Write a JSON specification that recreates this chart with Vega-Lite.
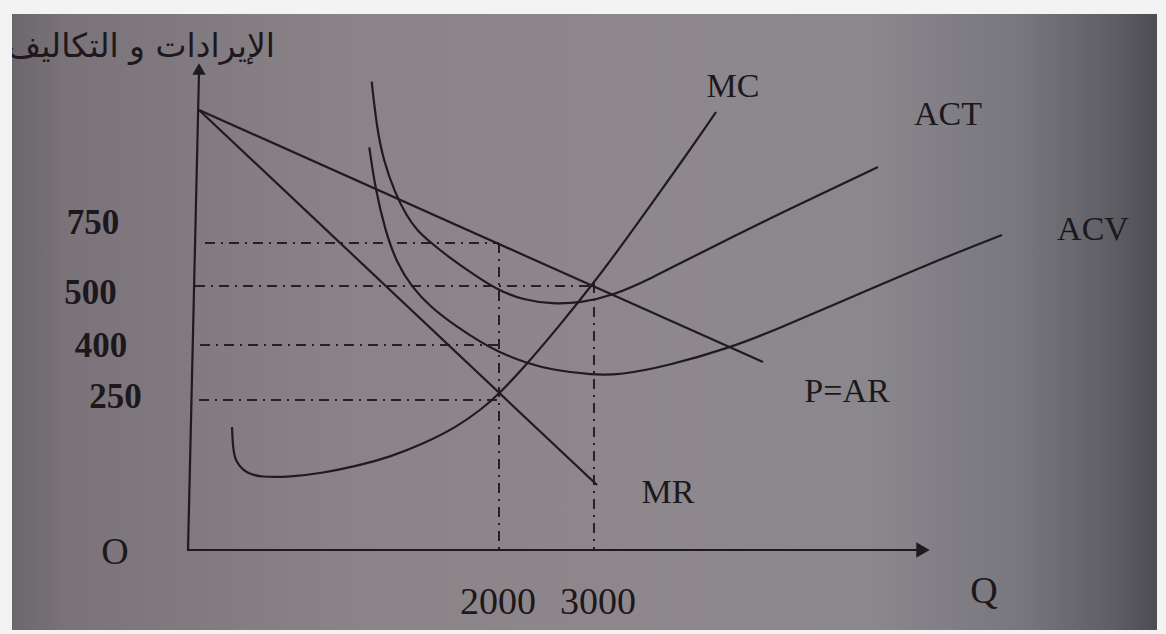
{
  "$schema": "https://vega.github.io/schema/vega-lite/v6.json",
  "width": 1166,
  "height": 634,
  "autosize": {"type": "fit", "contains": "padding"},
  "padding": {"left": 12, "top": 14, "right": 9, "bottom": 4},
  "background": "#f3f3f3",
  "config": {"view": {"stroke": null}},
  "datasets": {
    "curves": [
      {"curve": "MC", "q": 7, "v": 24.6},
      {"curve": "MC", "q": 7.2, "v": 20},
      {"curve": "MC", "q": 7.8, "v": 17.6},
      {"curve": "MC", "q": 9.2, "v": 16},
      {"curve": "MC", "q": 10.6, "v": 15.2},
      {"curve": "MC", "q": 12.6, "v": 14.6},
      {"curve": "MC", "q": 18.6, "v": 14.6},
      {"curve": "MC", "q": 25.2, "v": 15.4},
      {"curve": "MC", "q": 32, "v": 16.8},
      {"curve": "MC", "q": 38.6, "v": 18.6},
      {"curve": "MC", "q": 45.2, "v": 21.2},
      {"curve": "MC", "q": 52, "v": 24.6},
      {"curve": "MC", "q": 57.2, "v": 28.4},
      {"curve": "MC", "q": 60.2, "v": 31},
      {"curve": "MC", "q": 66, "v": 37.2},
      {"curve": "MC", "q": 72.6, "v": 45},
      {"curve": "MC", "q": 79, "v": 53},
      {"curve": "MC", "q": 84.6, "v": 60.4},
      {"curve": "MC", "q": 98.6, "v": 80},
      {"curve": "MC", "q": 103.8, "v": 87.6},
      {"curve": "ACT", "q": 34.94, "v": 93.66},
      {"curve": "ACT", "q": 35.94, "v": 84.66},
      {"curve": "ACT", "q": 37.26, "v": 78},
      {"curve": "ACT", "q": 39.6, "v": 71.4},
      {"curve": "ACT", "q": 41.94, "v": 66.8},
      {"curve": "ACT", "q": 43.94, "v": 64},
      {"curve": "ACT", "q": 46.6, "v": 61.6},
      {"curve": "ACT", "q": 49.94, "v": 58.9},
      {"curve": "ACT", "q": 55.94, "v": 54.66},
      {"curve": "ACT", "q": 60.2, "v": 52},
      {"curve": "ACT", "q": 65.2, "v": 50},
      {"curve": "ACT", "q": 71.2, "v": 49.2},
      {"curve": "ACT", "q": 76.6, "v": 49.4},
      {"curve": "ACT", "q": 83.2, "v": 50.9},
      {"curve": "ACT", "q": 90.6, "v": 54.2},
      {"curve": "ACT", "q": 100.6, "v": 59.4},
      {"curve": "ACT", "q": 118, "v": 68},
      {"curve": "ACT", "q": 136.2, "v": 76.6},
      {"curve": "ACV", "q": 34.46, "v": 80.54},
      {"curve": "ACV", "q": 35.6, "v": 72.6},
      {"curve": "ACV", "q": 37.6, "v": 64},
      {"curve": "ACV", "q": 39.94, "v": 57.4},
      {"curve": "ACV", "q": 42.94, "v": 52.66},
      {"curve": "ACV", "q": 46.6, "v": 48.66},
      {"curve": "ACV", "q": 51.94, "v": 44.66},
      {"curve": "ACV", "q": 56.6, "v": 41.66},
      {"curve": "ACV", "q": 60.2, "v": 39.66},
      {"curve": "ACV", "q": 65.94, "v": 37.34},
      {"curve": "ACV", "q": 71.2, "v": 36},
      {"curve": "ACV", "q": 79.2, "v": 35},
      {"curve": "ACV", "q": 84.6, "v": 35},
      {"curve": "ACV", "q": 94, "v": 36.8},
      {"curve": "ACV", "q": 106.6, "v": 40.4},
      {"curve": "ACV", "q": 116.6, "v": 44.4},
      {"curve": "ACV", "q": 127.2, "v": 49},
      {"curve": "ACV", "q": 147.2, "v": 57.6},
      {"curve": "ACV", "q": 161, "v": 63},
      {"curve": "P=AR", "q": 0.4, "v": 88},
      {"curve": "P=AR", "q": 113.2, "v": 37.6},
      {"curve": "MR", "q": 0.4, "v": 88},
      {"curve": "MR", "q": 80, "v": 13}
    ],
    "guides": [
      {"guide": "750", "q": 1.6, "v": 61.4},
      {"guide": "750", "q": 60.4, "v": 61.4},
      {"guide": "500", "q": -0.4, "v": 52.8},
      {"guide": "500", "q": 79.2, "v": 52.8},
      {"guide": "400", "q": 0.6, "v": 41},
      {"guide": "400", "q": 60.4, "v": 41},
      {"guide": "250", "q": 0.4, "v": 30},
      {"guide": "250", "q": 60, "v": 30},
      {"guide": "2000", "q": 60.4, "v": 61.4},
      {"guide": "2000", "q": 60.4, "v": 0},
      {"guide": "3000", "q": 79.4, "v": 53.4},
      {"guide": "3000", "q": 79.4, "v": 0}
    ],
    "axes": [
      {"axis": "y", "q": -1.8, "v": -0.2},
      {"axis": "y", "q": 0.4, "v": 95.5},
      {"axis": "x", "q": -2, "v": 0},
      {"axis": "x", "q": 144, "v": 0}
    ],
    "arrows": [
      {"dir": "up", "q": 0.4, "v": 96.2},
      {"dir": "right", "q": 145.2, "v": 0}
    ],
    "labels": [
      {"group": "curve", "text": "MC", "q": 107.2, "v": 92.6},
      {"group": "curve", "text": "ACT", "q": 150.2, "v": 87},
      {"group": "curve", "text": "ACV", "q": 179.2, "v": 64},
      {"group": "curve", "text": "P=AR", "q": 130, "v": 31.6},
      {"group": "curve", "text": "MR", "q": 94.2, "v": 11.4},
      {"group": "axis", "text": "O", "q": -16.4, "v": -0.6},
      {"group": "axis", "text": "Q", "q": 157.4, "v": -8.4},
      {"group": "axis", "text": "2000", "q": 60.2, "v": -10.6},
      {"group": "axis", "text": "3000", "q": 80.2, "v": -10.6},
      {"group": "tick", "text": "750", "q": -20.8, "v": 65.4},
      {"group": "tick", "text": "500", "q": -21.3, "v": 51.4},
      {"group": "tick", "text": "400", "q": -19.2, "v": 40.8},
      {"group": "tick", "text": "250", "q": -16.3, "v": 30.6},
      {"group": "title", "text": "الإيرادات و التكاليف", "q": 15.6, "v": 100.6}
    ]
  },
  "layer": [
    {
      "data": {"values": [{"panel": "paper"}]},
      "mark": {
        "type": "rect",
        "color": {
          "gradient": "linear",
          "x1": 0, "y1": 0, "x2": 1, "y2": 0,
          "stops": [
            {"offset": 0, "color": "#6c676d"},
            {"offset": 0.05, "color": "#7a747a"},
            {"offset": 0.3, "color": "#8a8388"},
            {"offset": 0.55, "color": "#8e888d"},
            {"offset": 0.75, "color": "#8a878d"},
            {"offset": 0.88, "color": "#78777d"},
            {"offset": 0.96, "color": "#5e5e64"},
            {"offset": 1, "color": "#4c4c52"}
          ]
        }
      }
    },
    {
      "data": {"name": "guides"},
      "mark": {"type": "line", "stroke": "#262126", "strokeWidth": 2, "strokeDash": [10, 6, 2, 6]},
      "encoding": {
        "x": {"field": "q", "type": "quantitative", "scale": {"domain": [-37, 192], "nice": false, "zero": false}, "axis": null},
        "y": {"field": "v", "type": "quantitative", "scale": {"domain": [-16, 107.2], "nice": false, "zero": false}, "axis": null},
        "detail": {"field": "guide"}
      }
    },
    {
      "data": {"name": "axes"},
      "mark": {"type": "line", "stroke": "#1e1a1e", "strokeWidth": 2.2},
      "encoding": {
        "x": {"field": "q", "type": "quantitative", "scale": {"domain": [-37, 192], "nice": false, "zero": false}, "axis": null},
        "y": {"field": "v", "type": "quantitative", "scale": {"domain": [-16, 107.2], "nice": false, "zero": false}, "axis": null},
        "detail": {"field": "axis"}
      }
    },
    {
      "data": {"name": "arrows"},
      "transform": [{"filter": "datum.dir === 'up'"}],
      "mark": {"type": "point", "shape": "triangle-up", "filled": true, "color": "#1e1a1e", "size": 180, "opacity": 1},
      "encoding": {
        "x": {"field": "q", "type": "quantitative", "scale": {"domain": [-37, 192], "nice": false, "zero": false}, "axis": null},
        "y": {"field": "v", "type": "quantitative", "scale": {"domain": [-16, 107.2], "nice": false, "zero": false}, "axis": null}
      }
    },
    {
      "data": {"name": "arrows"},
      "transform": [{"filter": "datum.dir === 'right'"}],
      "mark": {"type": "point", "shape": "triangle-right", "filled": true, "color": "#1e1a1e", "size": 240, "opacity": 1},
      "encoding": {
        "x": {"field": "q", "type": "quantitative", "scale": {"domain": [-37, 192], "nice": false, "zero": false}, "axis": null},
        "y": {"field": "v", "type": "quantitative", "scale": {"domain": [-16, 107.2], "nice": false, "zero": false}, "axis": null}
      }
    },
    {
      "data": {"name": "curves"},
      "mark": {"type": "line", "stroke": "#1f1b1f", "strokeWidth": 2.2, "interpolate": "basis"},
      "encoding": {
        "x": {"field": "q", "type": "quantitative", "scale": {"domain": [-37, 192], "nice": false, "zero": false}, "axis": null},
        "y": {"field": "v", "type": "quantitative", "scale": {"domain": [-16, 107.2], "nice": false, "zero": false}, "axis": null},
        "detail": {"field": "curve"}
      }
    },
    {
      "data": {"name": "labels"},
      "transform": [{"filter": "datum.group === 'curve'"}],
      "mark": {"type": "text", "font": "Liberation Serif", "fontSize": 34, "color": "#1c181c", "align": "center", "baseline": "middle"},
      "encoding": {
        "x": {"field": "q", "type": "quantitative", "scale": {"domain": [-37, 192], "nice": false, "zero": false}, "axis": null},
        "y": {"field": "v", "type": "quantitative", "scale": {"domain": [-16, 107.2], "nice": false, "zero": false}, "axis": null},
        "text": {"field": "text"}
      }
    },
    {
      "data": {"name": "labels"},
      "transform": [{"filter": "datum.group === 'axis'"}],
      "mark": {"type": "text", "font": "Liberation Serif", "fontSize": 38, "color": "#1c181c", "align": "center", "baseline": "middle"},
      "encoding": {
        "x": {"field": "q", "type": "quantitative", "scale": {"domain": [-37, 192], "nice": false, "zero": false}, "axis": null},
        "y": {"field": "v", "type": "quantitative", "scale": {"domain": [-16, 107.2], "nice": false, "zero": false}, "axis": null},
        "text": {"field": "text"}
      }
    },
    {
      "data": {"name": "labels"},
      "transform": [{"filter": "datum.group === 'tick'"}],
      "mark": {"type": "text", "font": "Liberation Serif", "fontWeight": "bold", "fontSize": 35, "color": "#1c181c", "align": "center", "baseline": "middle"},
      "encoding": {
        "x": {"field": "q", "type": "quantitative", "scale": {"domain": [-37, 192], "nice": false, "zero": false}, "axis": null},
        "y": {"field": "v", "type": "quantitative", "scale": {"domain": [-16, 107.2], "nice": false, "zero": false}, "axis": null},
        "text": {"field": "text"}
      }
    },
    {
      "data": {"name": "labels"},
      "transform": [{"filter": "datum.group === 'title'"}],
      "mark": {"type": "text", "font": "DejaVu Sans", "fontSize": 33, "color": "#1c181c", "align": "right", "baseline": "middle", "clip": true},
      "encoding": {
        "x": {"field": "q", "type": "quantitative", "scale": {"domain": [-37, 192], "nice": false, "zero": false}, "axis": null},
        "y": {"field": "v", "type": "quantitative", "scale": {"domain": [-16, 107.2], "nice": false, "zero": false}, "axis": null},
        "text": {"field": "text"}
      }
    }
  ]
}
